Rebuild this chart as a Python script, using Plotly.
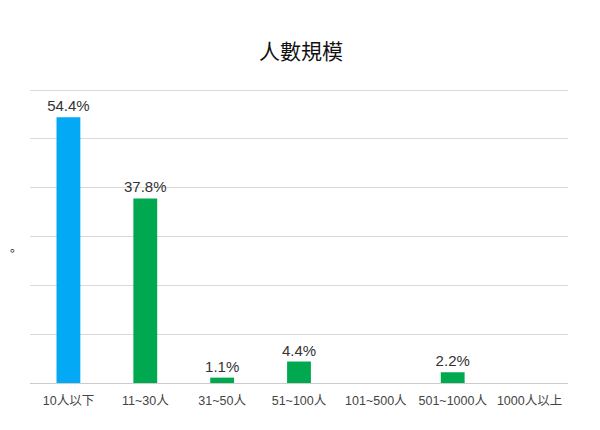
import plotly.graph_objects as go

categories = ["10人以下", "11~30人", "31~50人", "51~100人", "101~500人", "501~1000人", "1000人以上"]
values = [54.4, 37.8, 1.1, 4.4, 0, 2.2, 0]
bar_colors = ["#03A9F4", "#00A94F", "#00A94F", "#00A94F", "#00A94F", "#00A94F", "#00A94F"]
labels = [f"{v}%" if v else "" for v in values]

# page body has an 8px margin, so the figure is sized/offset to match
fig = go.Figure()
fig.add_trace(go.Bar(
    x=categories,
    y=values,
    marker=dict(color=bar_colors, line=dict(width=0)),
    text=labels,
    textposition="outside",
    constraintext="none",
    cliponaxis=False,
    textfont=dict(size=15, color="#333333"),
))

fig.update_layout(
    width=592,
    height=422,
    margin=dict(l=22, r=32, t=80, b=47),
    paper_bgcolor="white",
    plot_bgcolor="white",
    font=dict(family="Liberation Sans, Noto Sans CJK TC, sans-serif"),
    title=dict(text="人數規模", x=293 / 592, xanchor="center", y=1 - 44 / 422, yanchor="middle",
               font=dict(size=21, color="#111111", family="Noto Sans CJK TC")),
    bargap=0.69,
    showlegend=False,
)
fig.update_xaxes(
    showgrid=False,
    showline=True,
    linecolor="#cccccc",
    linewidth=1,
    ticks="",
    ticklabelstandoff=6,
    tickfont=dict(size=12.5, color="#444444", family="Liberation Sans, Noto Sans CJK TC"),
)
fig.update_yaxes(
    range=[0, 60 * 295 / 293],
    tickvals=[10, 20, 30, 40, 50, 60],
    showgrid=True,
    gridcolor="#d9d9d9",
    gridwidth=1,
    showticklabels=False,
    zeroline=False,
)
# stray full-width period left of the plot (SC glyph sits at the lower-left of its box)
fig.add_annotation(text="。", x=(0 - 22) / 538, y=(375 - 238) / 295, xref="paper", yref="paper",
                   showarrow=False, xanchor="left", yanchor="middle",
                   font=dict(size=12, color="#222222", family="Noto Sans CJK SC"))

fig.write_html("out.html")
